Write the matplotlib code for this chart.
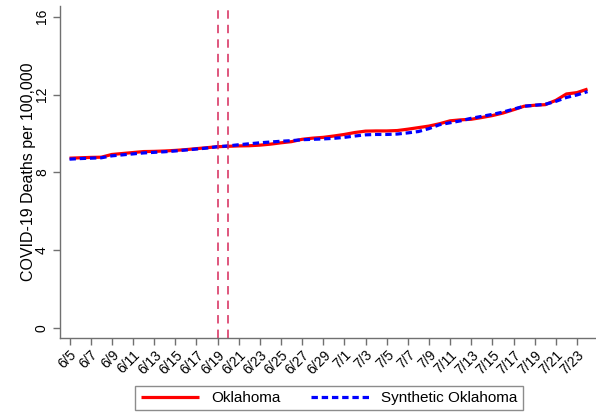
import matplotlib
matplotlib.use("Agg")
import matplotlib.pyplot as plt
import numpy as np
import pandas as pd

plt.rcParams['font.family'] = ['Liberation Sans', 'DejaVu Sans']

dates = pd.date_range("2020-06-05", "2020-07-24", freq="D")
oklahoma = [8.73, 8.75, 8.77, 8.78, 8.92, 8.97, 9.02, 9.07, 9.08, 9.10,
            9.13, 9.17, 9.22, 9.27, 9.32, 9.34, 9.36, 9.37, 9.40, 9.45,
            9.52, 9.58, 9.70, 9.76, 9.80, 9.87, 9.95, 10.05, 10.12, 10.13,
            10.13, 10.15, 10.22, 10.30, 10.38, 10.50, 10.65, 10.70, 10.73, 10.82,
            10.92, 11.05, 11.22, 11.40, 11.45, 11.48, 11.70, 12.03, 12.10, 12.28]
synthetic = [8.68, 8.71, 8.73, 8.75, 8.85, 8.90, 8.95, 9.00, 9.03, 9.06,
             9.10, 9.15, 9.20, 9.25, 9.32, 9.36, 9.42, 9.47, 9.52, 9.56,
             9.60, 9.63, 9.68, 9.70, 9.72, 9.75, 9.80, 9.87, 9.93, 9.95,
             9.95, 9.97, 10.03, 10.10, 10.25, 10.45, 10.55, 10.65, 10.78, 10.88,
             10.98, 11.10, 11.25, 11.40, 11.45, 11.50, 11.65, 11.85, 11.98, 12.15]
event_days = ["2020-06-19", "2020-06-20"]
y_ticks = [0, 4, 8, 12, 16]

labels = [f"{d.month}/{d.day}" for d in dates]
x = np.arange(len(dates))

fig = plt.figure(figsize=(5.96, 4.19), dpi=100)
ax = fig.add_axes([60/596, 1 - 338/419, 536/596, (338 - 6)/419])

ax.plot(x, oklahoma, color='#ff0000', lw=2.3, solid_capstyle='butt', label='Oklahoma')
ax.plot(x, synthetic, color='#0000ff', lw=2.3, ls=(0, (2.0, 1.2)), label='Synthetic Oklahoma')

for ev in event_days:
    xi = list(dates).index(pd.Timestamp(ev))
    ax.axvline(xi, color='#d6285a', lw=1.1, ls=(0, (5.5, 4)))

ax.set_xlim(-0.9, 49.8)
ax.set_ylim(-0.51, 16.55)
ax.set_yticks(y_ticks)
ax.set_yticklabels([str(t) for t in y_ticks], rotation=90, va='center', fontsize=10)
ax.set_xticks(x[::2])
ax.set_xticklabels(labels[::2], rotation=45, ha='right', rotation_mode='anchor', fontsize=10)
ax.set_ylabel("COVID-19 Deaths per 100,000", fontsize=11.5, labelpad=-1)

for s in ['top', 'right']:
    ax.spines[s].set_visible(False)
for s in ['left', 'bottom']:
    ax.spines[s].set_color('#707070')
    ax.spines[s].set_linewidth(1.0)
ax.tick_params(axis='both', color='#707070', length=5, width=1.0, pad=3)
ax.tick_params(axis='x', pad=2)

leg = fig.legend(loc='lower center', bbox_to_anchor=(329/596, 1/419), ncol=2,
                 fontsize=11, frameon=True, fancybox=False, edgecolor='#707070',
                 handlelength=3.8, columnspacing=2.0, borderpad=0.35, handletextpad=0.8)
leg.get_frame().set_linewidth(1.0)

fig.savefig("out.png", dpi=100)
